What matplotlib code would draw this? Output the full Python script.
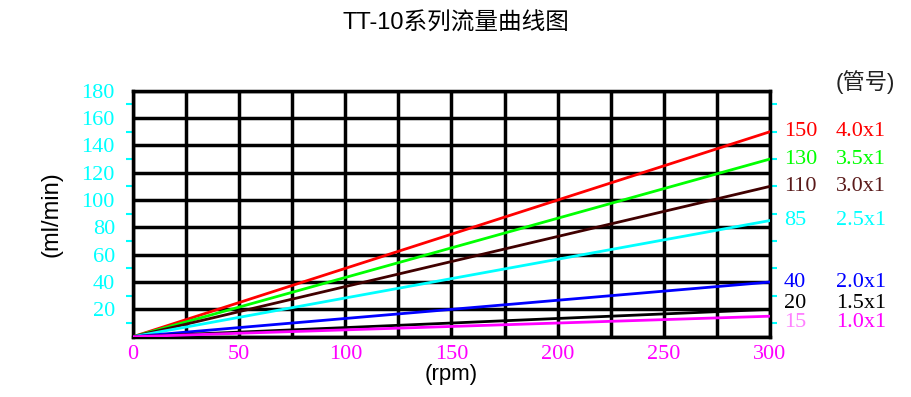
import matplotlib
matplotlib.use('Agg')
from matplotlib import pyplot as plt
import numpy as np

# flow curves, ml/min at 0 and 300 rpm
rpm = [0, 300]
flow_end = [150, 130, 110, 85, 40, 20, 15]
tube_sizes = ['4.0x1', '3.5x1', '3.0x1', '2.5x1', '2.0x1', '1.5x1', '1.0x1']
line_colors = ['#ff0000', '#00ff00', '#400000', '#00ffff', '#0000ff', '#000000', '#ff00ff']
value_colors = ['#ff0000', '#00ff00', '#5a1a1a', '#00ffff', '#0000ff', '#000000', '#ff80ff']
size_colors = ['#ff0000', '#00ff00', '#5a1a1a', '#00ffff', '#0000ff', '#000000', '#ff00ff']
label_y = [150, 130, 110, 85, 40, 24, 10.5]

x_ticks = list(range(0, 301, 25))
y_ticks = list(range(0, 181, 20))

serif = 'Liberation Serif'
cjk = ['Liberation Sans', 'Noto Sans CJK SC', 'DejaVu Sans']

fig = plt.figure(figsize=(9.12, 3.97), dpi=100)
ax = fig.add_axes([0.1458, 0.1519, 0.6985, 0.6196])

for end, c in zip(flow_end, line_colors):
    ax.plot(rpm, [0, end], color=c, linewidth=2, zorder=3)

ax.set_xlim(0, 300)
ax.set_ylim(0, 180)
ax.set_xticks(x_ticks)
ax.set_xticklabels([str(v) if v % 50 == 0 else '' for v in x_ticks],
                   color='#ff00ff', fontsize=16, family=serif)
ax.set_yticks(y_ticks)
ax.set_yticklabels(['' if v == 0 else str(v) for v in y_ticks],
                   color='#00ffff', fontsize=16, family=serif)
ax.set_yticks(list(range(10, 180, 20)), minor=True)
ax.tick_params(axis='x', which='major', length=0, pad=6)
ax.tick_params(axis='y', which='major', length=0, pad=13)
ax.tick_params(axis='y', which='minor', length=5, width=1.5, color='#00ffff',
               left=True, right=True)
ax.grid(True, which='major', color='black', linewidth=2.5, zorder=1)
for s in ax.spines.values():
    s.set_linewidth(2.5)
    s.set_color('black')

for v, sz, y, vc, sc in zip(flow_end, tube_sizes, label_y, value_colors, size_colors):
    ax.text(1.022, y, str(v), transform=ax.get_yaxis_transform(), color=vc,
            fontsize=16, family=serif, va='center', ha='left')
    ax.text(1.103, y, sz, transform=ax.get_yaxis_transform(), color=sc,
            fontsize=16, family=serif, va='center', ha='left')

ax.text(1.103, 1.035, '(管号)', transform=ax.transAxes, color='#222222',
        fontsize=16, family=cjk, va='center', ha='left')

fig.text(0.5, 0.94, 'TT-10系列流量曲线图', fontsize=17, family=cjk,
         ha='center', va='center')
ax.set_xlabel('(rpm)', fontsize=16, family=cjk, labelpad=0)
ax.set_ylabel('(ml/min)', fontsize=17, family=cjk, labelpad=14)

fig.savefig('out.png', dpi=100)
